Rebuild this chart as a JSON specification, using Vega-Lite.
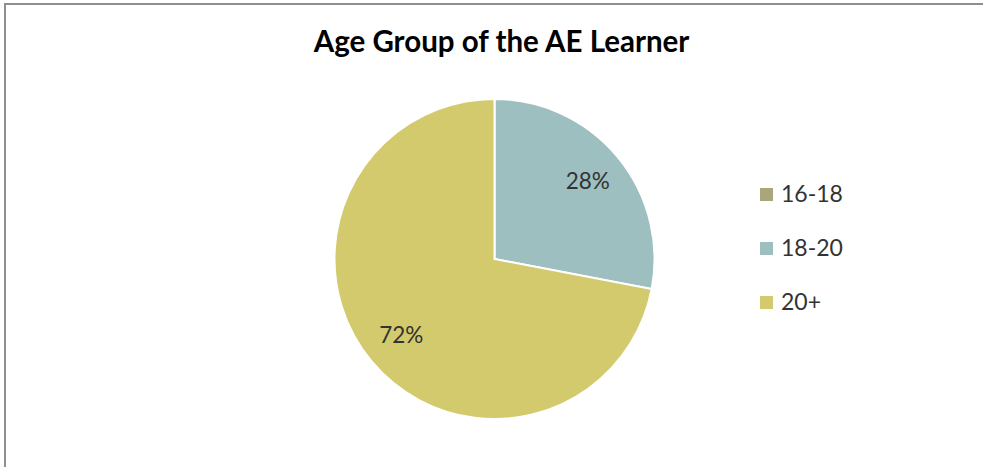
{
  "$schema": "https://vega.github.io/schema/vega-lite/v6.json",
  "width": 979,
  "height": 510,
  "autosize": {"type": "none"},
  "padding": {"left": 5, "top": 4, "right": 0, "bottom": 0},
  "background": "white",
  "view": {"stroke": "#8f8f8f", "strokeWidth": 2},
  "config": {
    "view": {"stroke": "#8f8f8f", "strokeWidth": 2},
    "font": "Lato"
  },
  "title": {
    "text": "Age Group of the AE Learner",
    "font": "Lato",
    "fontSize": 29.5,
    "fontWeight": "bold",
    "color": "#000000",
    "anchor": "middle",
    "baseline": "alphabetic",
    "offset": -77,
    "dx": 7
  },
  "data": {
    "values": [
      {"age": "16-18", "pct": 0, "label": "0%"},
      {"age": "18-20", "pct": 28, "label": "28%"},
      {"age": "20+", "pct": 72, "label": "72%"}
    ]
  },
  "encoding": {
    "theta": {"field": "pct", "type": "quantitative", "stack": true},
    "color": {
      "field": "age",
      "type": "nominal",
      "scale": {"domain": ["16-18", "18-20", "20+"], "range": ["#aaa67c", "#9dbfbf", "#d2ca6c"]},
      "legend": {
        "title": null,
        "orient": "none",
        "legendX": 750,
        "legendY": 179,
        "padding": 0,
        "symbolType": "square",
        "symbolSize": 169,
        "symbolStrokeWidth": 0,
        "labelFontSize": 23,
        "labelFont": "Lato",
        "labelColor": "#333333",
        "labelOffset": 3,
        "rowPadding": 30
      }
    }
  },
  "layer": [
    {"mark": {"type": "arc", "outerRadius": 160, "stroke": "white", "strokeWidth": 2}},
    {
      "transform": [{"filter": "datum.pct > 0"}],
      "mark": {"type": "text", "radius": 121, "fontSize": 22.5, "font": "Lato", "color": "#333333"},
      "encoding": {"text": {"field": "label", "type": "nominal"}, "color": {"value": "#333333"}}
    }
  ]
}
